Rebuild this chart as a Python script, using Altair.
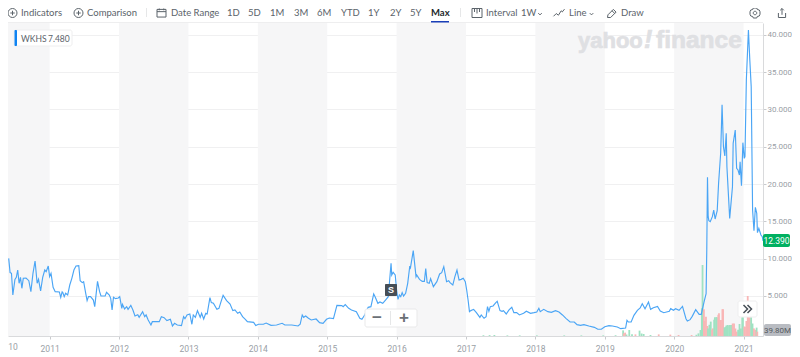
import altair as alt
import pandas as pd

alt.data_transformers.disable_max_rows()

# ---------- data ----------
years = [2010.41,2010.43,2010.45,2010.47,2010.50,2010.52,2010.54,2010.56,2010.58,2010.60,2010.62,2010.66,2010.70,2010.73,2010.76,2010.79,2010.82,2010.84,2010.87,2010.90,2010.93,2010.95,2010.98,
2011.00,2011.02,2011.05,2011.08,2011.14,2011.16,2011.18,2011.19,2011.21,2011.23,2011.26,2011.29,2011.32,2011.35,2011.38,2011.42,2011.44,2011.47,2011.49,2011.52,2011.54,2011.56,2011.59,2011.63,2011.65,2011.69,2011.72,2011.74,2011.80,2011.82,2011.86,2011.88,2011.90,2011.92,2011.95,2011.99,
2012.01,2012.04,2012.05,2012.08,2012.11,2012.13,2012.17,2012.20,2012.23,2012.27,2012.29,2012.34,2012.37,2012.39,2012.42,2012.46,2012.48,2012.58,2012.61,2012.65,2012.69,2012.74,2012.77,2012.80,2012.84,2012.90,2012.93,2012.95,2012.98,
2013.02,2013.05,2013.07,2013.10,2013.13,2013.17,2013.19,2013.22,2013.25,2013.27,2013.31,2013.33,2013.36,2013.41,2013.44,2013.47,2013.50,2013.55,2013.60,2013.64,2013.67,2013.71,2013.74,2013.78,2013.82,2013.85,2013.94,2013.97,
2014.01,2014.08,2014.12,2014.19,2014.27,2014.35,2014.39,2014.49,2014.58,2014.61,2014.64,2014.66,2014.69,2014.73,2014.77,2014.84,2014.89,2014.94,2014.99,
2015.03,2015.09,2015.14,2015.21,2015.23,2015.26,2015.31,2015.35,2015.42,2015.47,2015.50,2015.54,2015.59,2015.63,2015.67,2015.69,2015.73,2015.76,2015.80,2015.84,2015.88,2015.90,2015.92,2015.93,2015.95,2015.98,
2016.00,2016.02,2016.04,2016.06,2016.08,2016.10,2016.13,2016.16,2016.19,2016.20,2016.24,2016.28,2016.29,2016.33,2016.37,2016.40,2016.42,2016.44,2016.47,2016.49,2016.53,2016.58,2016.62,2016.65,2016.68,2016.72,2016.75,2016.77,2016.81,2016.84,2016.87,2016.90,2016.93,2016.96,2016.99,
2017.01,2017.03,2017.05,2017.07,2017.11,2017.15,2017.20,2017.22,2017.26,2017.29,2017.31,2017.33,2017.35,2017.39,2017.43,2017.45,2017.49,2017.52,2017.54,2017.58,2017.62,2017.66,2017.69,2017.73,2017.77,2017.83,2017.87,2017.93,2017.98,
2018.02,2018.05,2018.07,2018.12,2018.18,2018.23,2018.29,2018.34,2018.39,2018.44,2018.50,2018.56,2018.60,2018.65,2018.70,2018.77,2018.85,2018.90,2018.95,
2019.00,2019.06,2019.11,2019.18,2019.23,2019.30,2019.32,2019.34,2019.38,2019.42,2019.47,2019.51,2019.54,2019.58,2019.63,2019.66,2019.70,2019.76,2019.80,2019.85,2019.93,2019.95,2019.99,
2020.02,2020.07,2020.12,2020.17,2020.19,2020.23,2020.26,2020.31,2020.36,2020.39,2020.43,2020.46,2020.47,2020.48,2020.49,2020.50,2020.52,2020.55,2020.57,2020.59,2020.62,2020.64,2020.67,2020.69,2020.71,2020.73,2020.75,2020.76,2020.80,2020.84,2020.85,2020.88,2020.90,2020.92,2020.94,2020.95,2020.97,2020.99,
2021.01,2021.02,2021.04,2021.07,2021.09,2021.11,2021.13,2021.15,2021.17,2021.19,2021.20,2021.22,2021.25,2021.27,2021.28]

closes = [10.04,8.13,8.04,5.13,7.23,7.5,8.48,6.7,7.5,6.03,7.37,7.41,7.05,5.58,8.04,9.69,6.7,7.23,5.67,7.5,8.48,8.26,9.02,
7.59,8.04,6.16,5.58,5.54,4.82,5.54,5.45,4.91,5.36,5.13,6.47,7.37,8.48,9.02,9.06,7.05,6.79,6.92,5.36,4.38,4.91,4.91,4.46,3.57,6.96,5.58,5.0,5.0,5.49,5.13,4.69,3.13,4.82,4.64,4.73,
4.91,3.35,3.88,3.26,3.57,3.21,3.75,3.13,2.32,2.5,2.14,2.9,2.23,2.46,1.79,1.12,1.56,1.56,2.23,2.1,1.7,1.88,0.98,1.34,1.12,1.03,2.23,1.96,2.46,
2.59,1.21,2.46,2.14,3.04,2.14,2.68,1.92,2.68,2.59,4.78,4.11,4.02,3.21,3.35,4.24,5.09,4.38,3.93,3.04,3.13,2.68,2.86,2.23,1.88,1.56,1.47,1.03,
1.21,1.21,1.38,1.07,1.12,1.34,1.12,1.12,0.98,1.21,2.46,2.14,2.32,2.01,1.79,1.92,1.43,1.34,1.88,
2.05,1.96,3.75,3.71,3.57,3.84,3.35,3.13,2.9,2.01,1.88,2.46,3.48,3.57,5.27,4.91,4.02,4.2,4.02,4.46,4.91,7.14,9.38,7.81,8.17,7.81,
5.8,4.55,5.13,4.91,5.45,5.0,5.36,6.7,9.02,8.79,11.07,7.59,7.81,7.23,6.96,6.96,8.66,6.79,6.7,7.32,6.25,6.92,7.95,8.13,8.93,6.92,7.05,6.79,6.47,7.59,8.48,7.14,7.23,7.37,6.92,
5.8,4.46,2.9,3.04,3.21,2.77,2.14,2.46,2.01,2.23,3.57,2.95,3.57,3.66,4.11,4.29,3.04,2.95,3.04,2.59,3.13,3.48,2.77,2.77,2.46,2.68,2.95,2.68,2.77,
2.86,3.35,2.9,3.21,2.9,2.81,3.04,2.86,2.46,2.01,1.52,1.52,1.16,1.07,1.16,0.98,0.8,0.54,0.54,
0.89,1.03,0.98,0.84,0.62,0.71,1.74,1.51,1.51,2.41,3.08,3.39,3.97,3.3,4.19,3.21,3.43,3.61,2.99,2.76,2.94,3.3,3.08,
3.3,3.08,3.61,1.96,1.65,1.83,2.27,3.17,2.54,2.54,4.19,5.31,11.25,20.9,15.63,15.09,14.96,15.63,16.52,15.31,16.43,20.09,24.11,30.63,25.0,23.75,26.79,22.32,15.4,19.64,25.45,27.23,22.1,21.88,21.21,22.99,19.78,25.54,
23.44,23.66,33.93,40.63,36.61,33.04,16.52,13.75,16.88,16.07,13.48,14.06,13.17,12.95,12.39]

vol_years = [2017.27,2017.36,2017.43,2017.62,2017.80,2018.05,2018.45,2018.70,2019.02,2019.20,2019.31,2019.32,2019.34,2019.36,2019.40,2019.44,2019.49,2019.55,2019.58,2019.61,2019.71,2019.83,2020.00,2020.12,2020.31,2020.38,2020.41,
2020.44,2020.46,2020.47,2020.49,2020.50,2020.52,2020.54,2020.55,2020.57,2020.59,2020.61,2020.62,2020.64,2020.65,2020.67,2020.68,2020.70,2020.71,2020.73,2020.74,2020.76,2020.77,2020.79,2020.81,2020.82,2020.84,2020.86,2020.87,2020.89,2020.91,2020.93,2020.95,2020.97,2020.99,
2021.01,2021.03,2021.05,2021.06,2021.08,2021.09,2021.11,2021.13,2021.14,2021.16,2021.18,2021.20,2021.22,2021.24,2021.26,2021.27]
vol_millions = [6,7,8,5,5,5,5,5,5,6,45,21,27,12,48,14,13,43,20,16,8,13,11,8,8,10,21,
48,222,568,214,120,155,80,61,90,115,50,61,130,150,150,150,170,182,128,128,214,214,70,75,85,88,80,88,88,100,101,60,35,50,
96,60,150,150,75,75,120,320,200,150,150,100,61,50,67,35]
vol_dirs = ["u","u","u","u","u","u","u","u","u","u","u","d","d","u","u","u","d","u","u","u","u","d","d","d","d","u","u",
"u","u","u","d","d","d","d","u","u","u","d","d","u","u","u","u","d","d","d","d","d","d","u","u","u","u","u","u","u","d","d","d","d","u",
"u","u","u","u","d","d","d","d","d","d","u","u","d","d","u","d"]

band_start = [2010.40, 2012, 2014, 2016, 2018, 2020]
band_end = [2011, 2013, 2015, 2017, 2019, 2021]
year_ticks = [2011, 2012, 2013, 2014, 2015, 2016, 2017, 2018, 2019, 2020, 2021]
price_ticks = [5, 10, 15, 20, 25, 30, 35, 40]

toolbar_labels = ["Indicators", "Comparison", "Date Range", "1D", "5D", "1M", "3M", "6M", "YTD", "1Y", "2Y", "5Y", "Interval", "1W", "Line", "Draw"]
toolbar_left = [21, 87, 171, 227, 248, 270, 294, 317, 341, 368, 390, 410, 486, 521, 569, 621]

FONT = "Lato"
NUM = "Roboto"
GREY = "#5b636a"
AXIS = "#9aa0a6"
MARK = "#dfe0e3"
X_DOMAIN = [2010.40, 2021.28]
Y_DOMAIN = [-0.36, 41.57]
OX, OY = 8, 23   # page position of the plot area
TY = 13          # toolbar text centre


def xq(field, axis=None):
    return alt.X(field, type="quantitative", scale=alt.Scale(domain=X_DOMAIN, nice=False, zero=False), axis=axis)


def yq(field, axis=None):
    return alt.Y(field, type="quantitative", scale=alt.Scale(domain=Y_DOMAIN, nice=False, zero=False), axis=axis)


bands = alt.Chart(pd.DataFrame({"a": band_start, "b": band_end})).mark_rect(color="#f6f6f7").encode(
    x=xq("a"), x2="b", y=alt.value(0), y2=alt.value(313))

axes = alt.Chart(pd.DataFrame({"y": price_ticks, "x": [2015] * 8})).mark_point(opacity=0).encode(
    x=xq("x", axis=alt.Axis(values=year_ticks, format="d", grid=False, title=None, orient="bottom",
                            domainColor="#d9dadc", tickColor="#c9cbce", tickSize=3, labelColor=AXIS,
                            labelFont=NUM, labelFontSize=8.5, labelPadding=5, labelFlush=False)),
    y=yq("y", axis=alt.Axis(values=price_ticks, format=".3f", grid=True, gridColor="#f0f0f1", title=None,
                            orient="right", domainColor="#d9dadc", tickColor="#c9cbce", tickSize=3,
                            labelColor=AXIS, labelFont=NUM, labelFontSize=8, labelPadding=1)))

volume = alt.Chart(pd.DataFrame({"x": vol_years, "v": vol_millions, "d": vol_dirs})).mark_bar(size=1.8).encode(
    x=xq("x"),
    y=alt.Y("v:Q", scale=alt.Scale(domain=[0, 2504], nice=False), axis=None),
    color=alt.Color("d:N", scale=alt.Scale(domain=["u", "d"], range=["#9fe2c2", "#f9b6b6"]), legend=None))

line = alt.Chart(pd.DataFrame({"x": years, "y": closes})).mark_line(
    color="#4aa5f5", strokeWidth=1.15, interpolate="linear").encode(x=xq("x"), y=yq("y"))


def raw_x(f):
    return alt.X(f, type="quantitative", scale=None, axis=None)


def raw_y(f):
    return alt.Y(f, type="quantitative", scale=None, axis=None)


def box(x0, x1, y0, y1, fill, radius=0, stroke=None):
    df = pd.DataFrame({"a": [x0 - OX], "b": [x1 - OX], "c": [y0 - OY], "d": [y1 - OY]})
    kw = dict(fill=fill, cornerRadius=radius)
    if stroke:
        kw.update(stroke=stroke, strokeWidth=1)
    return alt.Chart(df).mark_rect(**kw).encode(x=raw_x("a"), x2="b", y=raw_y("c"), y2="d")


def label(text, x, y, color=GREY, size=9.5, weight="normal", align="left", font=FONT, italic=False, heavy=0):
    df = pd.DataFrame({"t": [text], "a": [x - OX], "c": [y - OY]})
    kw = dict(color=color, fontSize=size, fontWeight=weight, align=align, baseline="middle", font=font)
    if italic:
        kw["fontStyle"] = "italic"
    if heavy:
        kw.update(stroke=color, strokeWidth=heavy)
    return alt.Chart(df).mark_text(**kw).encode(x=raw_x("a"), y=raw_y("c"), text="t:N")


def icon(path, x, y, px, color=GREY, width=1):
    df = pd.DataFrame({"a": [x - OX], "c": [y - OY]})
    return alt.Chart(df).mark_point(shape=path, size=px * px, filled=False, color=color, opacity=1,
                                    strokeWidth=width).encode(x=raw_x("a"), y=raw_y("c"))


CIRCLE_PLUS = "M-1,0A1,1,0,1,1,1,0A1,1,0,1,1,-1,0M-0.5,0H0.5M0,-0.5V0.5"
CALENDAR = "M-1,-0.8H1V0.9H-1ZM-1,-0.3H1M-0.5,-1V-0.6M0.5,-1V-0.6"
CANDLES = "M-1,-0.9H1V0.9H-1ZM-0.5,-0.9V-0.2M0,-0.9V0.1M0.5,-0.9V-0.2"
LINEICON = "M-1,0.6L-0.5,0.1L-0.1,0.4L0.4,-0.4L0.6,-0.2L1,-0.7"
PENCIL = "M-1,1L-0.9,0.4L0.3,-0.8L0.9,-0.2L-0.3,1ZM0,-0.5L0.6,0.1"
GEAR = "M-0.35,-1H0.35L0.45,-0.7L0.85,-0.6L1,-0.25V0.25L0.85,0.6L0.45,0.7L0.35,1H-0.35L-0.45,0.7L-0.85,0.6L-1,0.25V-0.25L-0.85,-0.6L-0.45,-0.7ZM-0.35,0A0.35,0.35,0,1,1,0.35,0A0.35,0.35,0,1,1,-0.35,0"
SHARE = "M-0.8,0V1H0.8V0M0,0.4V-1M-0.4,-0.6L0,-1L0.4,-0.6"
CHEVRON = "M-1,-0.5L0,0.5L1,-0.5"
DOUBLE = "M-1,-1L0,0L-1,1M0,-1L1,0L0,1"

watermark = [
    label("yahoo", 578, 41, MARK, 22, "bold", font="Liberation Sans", heavy=0.7),
    label("!", 644, 40, MARK, 25, "bold", font="Liberation Sans", italic=True, heavy=0.7),
    label("finance", 656, 41, MARK, 24.5, "bold", font="Liberation Sans", heavy=0.7),
]

ui = [
    box(0, 800, 0, 22, "#ffffff"),
    box(8, 763, 22, 23, "#eeeeef"),
    box(146, 147, 7, 17, "#e6e7e8"),
    box(460, 461, 7, 17, "#e6e7e8"),
    box(431, 449, 21, 22.5, "#1a3fb8"),
    icon(CIRCLE_PLUS, 12.5, TY, 9),
    icon(CIRCLE_PLUS, 78.5, TY, 9),
    icon(CALENDAR, 161.5, TY, 9),
    icon(CANDLES, 477, TY, 10),
    icon(LINEICON, 559, TY, 11),
    icon(PENCIL, 612, TY, 9),
    icon(GEAR, 755, TY, 10),
    icon(SHARE, 782, TY, 9),
    icon(CHEVRON, 540, 14, 3.5),
    icon(CHEVRON, 591.5, 14, 3.5),
    label("Max", 431, TY, "#23272b", 9.5, "bold"),
    # price badge
    box(14, 72, 30, 46, "#ffffff", 2, "#eeeeef"),
    box(14.5, 17, 30, 46, "#0f83f2", 1),
    label("WKHS", 21, 38.5, GREY, 8.5),
    label("7.480", 48, 38.5, GREY, 8.5),
    # zoom control
    box(365, 417, 309, 327, "#ffffff", 2, "#e9e9ea"),
    box(390, 391, 311, 325, "#e6e7e8"),
    label("\u2212", 377, 317.5, "#6b7076", 17, "bold", "center", font="Liberation Sans"),
    label("+", 404, 317.5, "#6b7076", 17, "bold", "center", font="Liberation Sans"),
    # split marker
    box(385, 397, 284, 296, "#464e56", 1),
    label("S", 391, 290, "#ffffff", 9, "bold", "center", font="Liberation Sans"),
    # scroll button
    box(738, 757, 301, 317, "#ffffff", 2, "#eeeeef"),
    icon(DOUBLE, 747.5, 309, 8, "#464e56", 1.5),
    # right badges
    box(763, 790, 234, 247, "#00b061", 2),
    label("12.390", 776.5, 241, "#ffffff", 8.5, "normal", "center", font=NUM),
    box(764, 791, 324, 336, "#b9bcc2", 2),
    label("39.80M", 777.5, 330.5, "#555a60", 8, "normal", "center", font=NUM),
    # clipped first year label
    label("10", 13, 347, AXIS, 8.5, "normal", "center", font=NUM),
]
for t, x in zip(toolbar_labels, toolbar_left):
    ui.append(label(t, x, TY))

chart = alt.layer(bands, *watermark, axes, volume, line, *ui).resolve_scale(
    x="independent", y="independent", color="independent"
).properties(
    width=755, height=313,
    autosize=alt.AutoSizeParams(type="none"),
    padding={"left": 0, "top": 15, "right": 29, "bottom": 24},
    background="#ffffff",
).configure_view(stroke=None)

chart.save("out.html", embed_options={"renderer": "svg", "actions": False})
